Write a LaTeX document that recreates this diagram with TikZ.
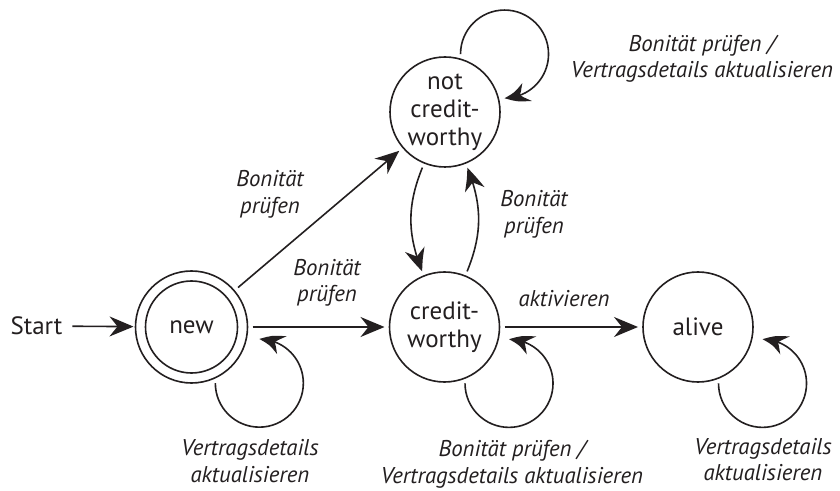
\documentclass[tikz,border=0pt]{standalone}
\usepackage{fontspec}
\setmainfont{PT Sans}
\usetikzlibrary{arrows.meta,bending}
\definecolor{ink}{RGB}{35,31,32}
\newcommand\statefont{\fontsize{25}{28}\selectfont}
\newcommand\lblfont{\fontsize{22.8}{26.6}\selectfont\itshape}
\begin{document}
\begin{tikzpicture}[x=1pt,y=1pt,
  every path/.style={color=ink},
  every node/.style={text=ink},
  statenode/.style={circle, draw=ink, line width=1.6pt, minimum size=110pt,
    inner sep=0pt, outer sep=5pt, align=center, font=\statefont},
  lbl/.style={font=\lblfont, align=center, inner sep=0pt},
  arr/.style={line width=1.6pt, draw=ink,
    -{Stealth[length=24pt,width=20pt,inset=8pt,bend]}}
]
\useasboundingbox (0,0) rectangle (840,490);
\fill[white] (0,0) rectangle (840,490);

% states
\node[statenode, minimum size=112pt] (new) at (191.5,163) {new};
\draw[line width=1.6pt] (new.center) circle[radius=46pt];
\node[statenode] (cw) at (444.5,163) {credit-\\worthy};
\node[statenode] (ncw) at (445,378) {not\\credit-\\worthy};
\node[statenode] (alive) at (698,163) {alive};
\node[font=\statefont, inner sep=0pt, outer xsep=10pt] (start) at (36.5,164) {Start};

% transitions
\draw[arr, shorten >=-3pt] (start) -- (new);
\draw[arr] (new) -- (cw);
\draw[arr] (new) -- (ncw);
\draw[arr] (cw) -- (alive);
\draw[arr] (ncw) to[bend right=22] (cw);
\draw[arr] (cw) to[bend right=22] (ncw);

% loops
\draw[arr] (new.-67) arc[start angle=180, end angle=450, radius=44pt];
\draw[arr] (cw.-70) arc[start angle=180, end angle=450, radius=44pt];
\draw[arr] (alive.-70) arc[start angle=180, end angle=450, radius=44pt];
\draw[arr] (ncw.75) arc[start angle=180, end angle=-90, radius=44pt];

% labels
\node[lbl] (l1) at (270,295.5) {Bonität\\prüfen};
\node[lbl] (l2) at (327,207.2) {Bonität\\prüfen};
\node[lbl] (l3) at (534,275.5) {Bonität\\prüfen};
\node[lbl] (l4) at (564,191.3) {aktivieren};
\node[lbl] (l5) at (702,431.3) {Bonität prüfen /\\Vertragsdetails aktualisieren};
\node[lbl] (l6) at (250,28.8) {Vertragsdetails\\aktualisieren};
\node[lbl] (l7) at (512,25.5) {Bonität prüfen /\\Vertragsdetails aktualisieren};
\node[lbl] (l8) at (763,30.5) {Vertragsdetails\\aktualisieren};
\end{tikzpicture}
\end{document}
